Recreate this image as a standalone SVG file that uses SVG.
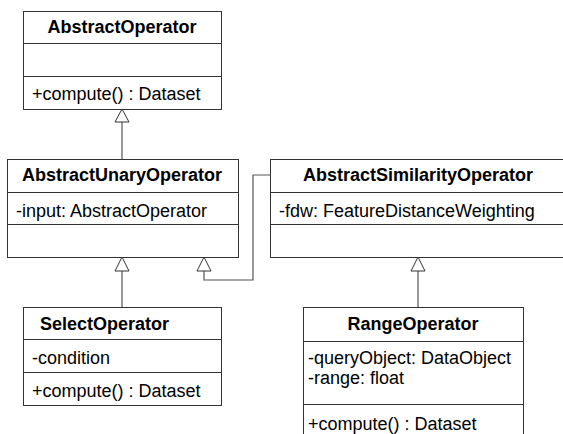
<svg xmlns="http://www.w3.org/2000/svg" width="563" height="434" viewBox="0 0 563 434">
<style>
.box{fill:#fff;stroke:#333;stroke-width:1}
.div{stroke:#333;stroke-width:1}
.t{font-family:"Liberation Sans",Arial,sans-serif;font-size:18px;fill:#000}
.b{font-weight:bold;text-anchor:middle}
.c{fill:none;stroke:#555;stroke-width:1.2}
.tri{fill:#fff;stroke:#333;stroke-width:1}
</style>
<rect width="563" height="434" fill="#fff"/>
<g id="connectors">
<line class="c" x1="122" y1="122" x2="122" y2="159"/>
<line class="c" x1="122" y1="271" x2="122" y2="307"/>
<polyline class="c" points="204,271 204,280 253,280 253,175 270,175"/>
<line class="c" x1="418" y1="271" x2="418" y2="307"/>
<polygon class="tri" points="122,109 115,122 129,122"/>
<polygon class="tri" points="122,257 115,271 129,271"/>
<polygon class="tri" points="204,257 197,271 211,271"/>
<polygon class="tri" points="418,257 411,271 425,271"/>
</g>
<g id="AbstractOperator">
<rect class="box" x="23.5" y="11.5" width="198" height="98"/>
<line class="div" x1="23.5" y1="43.5" x2="221.5" y2="43.5"/>
<line class="div" x1="23.5" y1="76.5" x2="221.5" y2="76.5"/>
<text class="t b" x="122" y="33">AbstractOperator</text>
<text class="t" x="32" y="100">+compute() : Dataset</text>
</g>
<g id="AbstractUnaryOperator">
<rect class="box" x="7.5" y="159.5" width="231" height="98"/>
<line class="div" x1="7.5" y1="192.5" x2="238.5" y2="192.5"/>
<line class="div" x1="7.5" y1="224.5" x2="238.5" y2="224.5"/>
<text class="t b" x="122" y="181">AbstractUnaryOperator</text>
<text class="t" x="16" y="217">-input: AbstractOperator</text>
</g>
<g id="AbstractSimilarityOperator">
<rect class="box" x="270.5" y="159.5" width="300" height="98"/>
<line class="div" x1="270.5" y1="192.5" x2="570" y2="192.5"/>
<line class="div" x1="270.5" y1="224.5" x2="570" y2="224.5"/>
<text class="t b" x="418" y="181">AbstractSimilarityOperator</text>
<text class="t" x="279" y="217">-fdw: FeatureDistanceWeighting</text>
</g>
<g id="SelectOperator">
<rect class="box" x="23.5" y="307.5" width="198" height="98"/>
<line class="div" x1="23.5" y1="339.5" x2="221.5" y2="339.5"/>
<line class="div" x1="23.5" y1="372.5" x2="221.5" y2="372.5"/>
<text class="t" x="40" y="330" font-weight="bold">SelectOperator</text>
<text class="t" x="32" y="364">-condition</text>
<text class="t" x="32" y="397">+compute() : Dataset</text>
</g>
<g id="RangeOperator">
<rect class="box" x="303.5" y="307.5" width="220" height="140"/>
<line class="div" x1="303.5" y1="341.5" x2="523.5" y2="341.5"/>
<line class="div" x1="303.5" y1="404.5" x2="523.5" y2="404.5"/>
<text class="t b" x="413" y="330">RangeOperator</text>
<text class="t" x="308" y="364">-queryObject: DataObject</text>
<text class="t" x="308" y="384">-range: float</text>
<text class="t" x="308" y="430">+compute() : Dataset</text>
</g>
</svg>
